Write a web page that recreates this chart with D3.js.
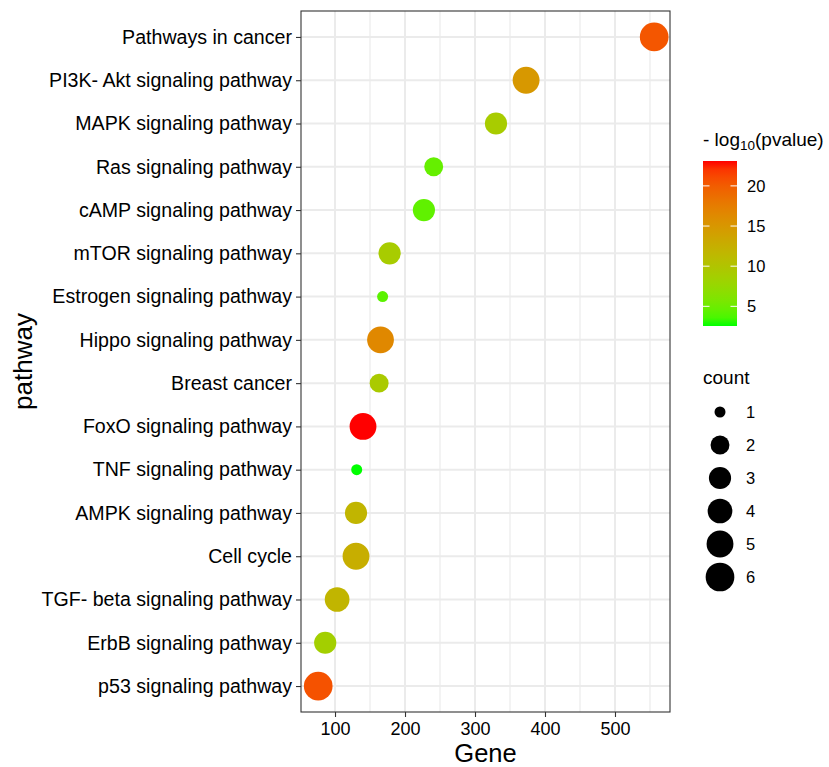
<!DOCTYPE html>
<meta charset="utf-8">
<style>
body { margin: 0; background: #fff; }
text { font-family: "Liberation Sans", Arial, sans-serif; fill: #000; }
.grid line { stroke: #ebebeb; }
</style>
<body><svg width="829" height="767"></svg></body>
<script src="https://d3js.org/d3.v7.min.js"></script>
<script>

// pathways, top to bottom as drawn
var pathways = [
  "Pathways in cancer", "PI3K- Akt signaling pathway", "MAPK signaling pathway",
  "Ras signaling pathway", "cAMP signaling pathway", "mTOR signaling pathway",
  "Estrogen signaling pathway", "Hippo signaling pathway", "Breast cancer",
  "FoxO signaling pathway", "TNF signaling pathway", "AMPK signaling pathway",
  "Cell cycle", "TGF- beta signaling pathway", "ErbB signaling pathway",
  "p53 signaling pathway"
];
var gene   = [556, 373, 330, 241, 227, 178, 168, 165, 163, 140, 131, 130, 130, 103, 86, 76];
var counts = [6, 5, 3, 2, 3, 3, 1, 5, 2, 5, 1, 3, 5, 4, 3, 6];
var logp   = [20.4, 14.9, 9.1, 4.6, 4.4, 9.1, 4.2, 16.5, 9.3, 23.1, 2.55, 11.8, 12.6, 11.8, 8.7, 20.6];

var xTicks = [100, 200, 300, 400, 500];
var xMinor = [150, 250, 350, 450, 550];
var colorTicks = [5, 10, 15, 20];
var countKeys = [1, 2, 3, 4, 5, 6];

var svg = d3.select("svg");
var panel = {left: 301, right: 670, top: 11, bottom: 712};

var x = d3.scaleLinear().domain([51.4, 578.6]).range([panel.left, panel.right]);
var y = d3.scalePoint().domain(pathways).range([panel.top, panel.bottom]).padding(0.6);
var r = d3.scaleSqrt().domain([0, 5]).range([5.5, 14.35]);   // fed count - 1
var pmin = d3.min(logp), pmax = d3.max(logp);
var color = d3.scaleLinear().domain([pmin, pmax]).range(["#00ff00", "#ff0000"])
    .interpolate(d3.interpolateLab);

// grid
var grid = svg.append("g").attr("class", "grid");
grid.selectAll(".minor").data(xMinor).enter().append("line")
    .attr("x1", x).attr("x2", x).attr("y1", panel.top).attr("y2", panel.bottom)
    .attr("stroke-width", 1.2);
grid.selectAll(".mx").data(xTicks).enter().append("line")
    .attr("x1", x).attr("x2", x).attr("y1", panel.top).attr("y2", panel.bottom)
    .attr("stroke-width", 2);
grid.selectAll(".my").data(pathways).enter().append("line")
    .attr("y1", y).attr("y2", y).attr("x1", panel.left).attr("x2", panel.right)
    .attr("stroke-width", 2);

// points
svg.append("g").selectAll("circle").data(pathways).enter().append("circle")
    .attr("cx", function(d, i) { return x(gene[i]); })
    .attr("cy", function(d) { return y(d); })
    .attr("r", function(d, i) { return r(counts[i] - 1); })
    .attr("fill", function(d, i) { return color(logp[i]); });

// panel border
svg.append("rect")
    .attr("x", panel.left).attr("y", panel.top)
    .attr("width", panel.right - panel.left).attr("height", panel.bottom - panel.top)
    .attr("fill", "none").attr("stroke", "#333").attr("stroke-width", 1.1);

// axes
var xAxis = svg.append("g")
    .attr("transform", "translate(0," + panel.bottom + ")")
    .call(d3.axisBottom(x).tickValues(xTicks).tickSize(5).tickPadding(5));
var yAxis = svg.append("g")
    .attr("transform", "translate(" + panel.left + ",0)")
    .call(d3.axisLeft(y).tickSize(5).tickPadding(4));
[xAxis, yAxis].forEach(function(a) {
  a.select(".domain").remove();
  a.selectAll(".tick line").attr("stroke", "#333").attr("stroke-width", 1.1);
  a.selectAll(".tick text").attr("fill", "#000")
      .style("font-family", '"Liberation Sans", Arial, sans-serif');
});
xAxis.selectAll(".tick text").style("font-size", "18px");
yAxis.selectAll(".tick text").style("font-size", "19.6px");

svg.append("text")
    .attr("x", (panel.left + panel.right) / 2).attr("y", 762)
    .attr("text-anchor", "middle").style("font-size", "25.5px").text("Gene");
svg.append("text")
    .attr("transform", "translate(32," + (panel.top + panel.bottom) / 2 + ") rotate(-90)")
    .attr("text-anchor", "middle").style("font-size", "26px").text("pathway");

// colour legend
var lg = svg.append("g");
var t = lg.append("text").attr("x", 703).attr("y", 146).style("font-size", "19px");
t.append("tspan").text("- log");
t.append("tspan").attr("dy", 4).style("font-size", "13.5px").text("10");
t.append("tspan").attr("dy", -4).text("(pvalue)");

var bar = {x: 703, w: 34, top: 161, bottom: 326};
var cy = d3.scaleLinear().domain([pmin, pmax]).range([bar.bottom, bar.top]);
var defs = svg.append("defs");
var grad = defs.append("linearGradient").attr("id", "pgrad")
    .attr("x1", 0).attr("y1", 1).attr("x2", 0).attr("y2", 0);
grad.selectAll("stop").data(d3.range(0, 1.0001, 0.05)).enter().append("stop")
    .attr("offset", function(d) { return d; })
    .attr("stop-color", function(d) { return color(pmin + d * (pmax - pmin)); });
lg.append("rect").attr("x", bar.x).attr("y", bar.top)
    .attr("width", bar.w).attr("height", bar.bottom - bar.top)
    .attr("fill", "url(#pgrad)");
colorTicks.forEach(function(v) {
  var yy = cy(v);
  lg.append("line").attr("x1", bar.x).attr("x2", bar.x + 6.5).attr("y1", yy).attr("y2", yy)
      .attr("stroke", "#fff").attr("stroke-width", 1);
  lg.append("line").attr("x1", bar.x + bar.w - 6.5).attr("x2", bar.x + bar.w).attr("y1", yy).attr("y2", yy)
      .attr("stroke", "#fff").attr("stroke-width", 1);
  lg.append("text").attr("x", 747).attr("y", yy).attr("dy", "0.35em")
      .style("font-size", "16.5px").text(v);
});

// size legend
var sg = svg.append("g");
sg.append("text").attr("x", 703).attr("y", 384).style("font-size", "19px").text("count");
var ky = d3.scalePoint().domain(countKeys).range([412, 577]);
sg.selectAll("circle").data(countKeys).enter().append("circle")
    .attr("cx", 720).attr("cy", ky)
    .attr("r", function(d) { return r(d - 1); })
    .attr("fill", "#000");
sg.selectAll(".lab").data(countKeys).enter().append("text")
    .attr("x", 746).attr("y", ky).attr("dy", "0.35em")
    .style("font-size", "16.5px").text(function(d) { return d; });

</script>
